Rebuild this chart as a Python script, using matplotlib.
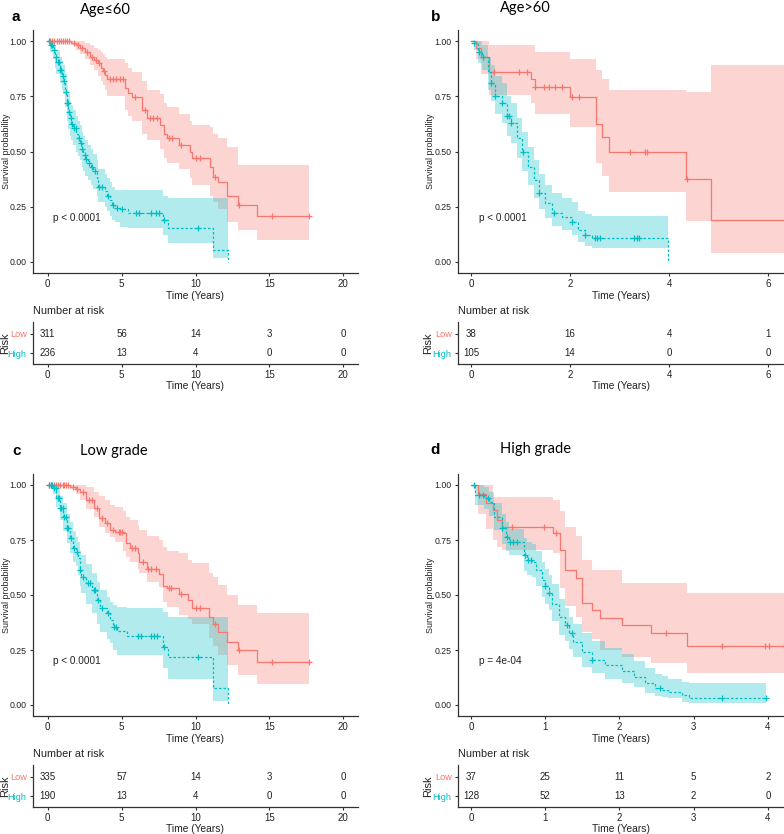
"""Kaplan-Meier panels (Age / grade subgroups) with number-at-risk tables."""

import matplotlib.pyplot as plt
import numpy as np

W, H = 784, 834
RED = "#F8766D"
TEAL = "#00BFC4"
INK = "#222222"

# ---- panel a: Age<=60 ----
A_LOW_T = [0, 1.6, 1.9, 2.2, 2.5, 2.85, 3.1, 3.4, 3.6, 3.75, 3.9, 4.0, 5.2, 5.45, 5.7,
           6.35, 6.7, 7.6, 7.85, 8.05, 8.85, 9.6, 9.75, 11.0, 11.2, 11.55, 12.1, 12.9, 14.15]
A_LOW_S = [1.0, 0.99, 0.98, 0.967, 0.95, 0.93, 0.915, 0.90, 0.88, 0.865, 0.845, 0.826, 0.786,
           0.765, 0.745, 0.688, 0.65, 0.62, 0.58, 0.56, 0.53, 0.50, 0.47, 0.43, 0.386, 0.36,
           0.30, 0.258, 0.208]
A_LOW_HI = [1.0, 1.0, 1.0, 1.0, 0.99, 0.98, 0.97, 0.96, 0.95, 0.94, 0.93, 0.92, 0.90, 0.88,
            0.86, 0.82, 0.78, 0.76, 0.72, 0.70, 0.67, 0.64, 0.62, 0.61, 0.58, 0.56, 0.52,
            0.44, 0.44]
A_LOW_LO = [1.0, 0.98, 0.96, 0.94, 0.92, 0.89, 0.87, 0.84, 0.82, 0.80, 0.78, 0.75, 0.69, 0.66,
            0.64, 0.58, 0.55, 0.51, 0.47, 0.45, 0.42, 0.38, 0.35, 0.30, 0.27, 0.24, 0.18,
            0.145, 0.10]
A_LOW_END = 17.65
A_LOW_CENS = [0.15, 0.3, 0.45, 0.6, 0.75, 0.9, 1.0, 1.15, 1.3, 1.45, 1.75, 2.05, 2.35, 2.65,
              3.0, 3.25, 3.5, 3.8, 4.2, 4.4, 4.65, 4.9, 5.1, 5.9, 6.55, 6.9, 7.1, 7.4, 8.2,
              8.4, 9.0, 10.0, 10.3, 11.3, 12.95, 15.2, 17.65]

A_HIGH_T = [0, 0.15, 0.36, 0.5, 0.59, 0.81, 0.95, 1.04, 1.15, 1.27, 1.38, 1.49, 1.6, 1.72,
            1.94, 2.05, 2.17, 2.3, 2.4, 2.55, 2.73, 2.9, 3.07, 3.3, 3.41, 3.86, 4.0, 4.2,
            4.35, 4.54, 4.88, 5.4, 7.8, 8.15, 11.16, 12.18]
A_HIGH_S = [1.0, 0.98, 0.96, 0.93, 0.906, 0.87, 0.84, 0.82, 0.77, 0.718, 0.68, 0.65, 0.625,
            0.605, 0.58, 0.56, 0.537, 0.51, 0.484, 0.465, 0.446, 0.43, 0.41, 0.38, 0.34,
            0.32, 0.30, 0.28, 0.26, 0.243, 0.238, 0.223, 0.19, 0.155, 0.054, 0.0]
A_HIGH_HI = [1.0, 1.0, 1.0, 0.98, 0.96, 0.93, 0.91, 0.89, 0.85, 0.80, 0.76, 0.73, 0.71, 0.69,
             0.66, 0.64, 0.62, 0.59, 0.57, 0.55, 0.53, 0.51, 0.49, 0.46, 0.42, 0.40, 0.38,
             0.36, 0.34, 0.326, 0.326, 0.326, 0.30, 0.29, 0.29, 0.29]
A_HIGH_LO = [1.0, 0.95, 0.92, 0.88, 0.85, 0.81, 0.78, 0.76, 0.70, 0.64, 0.60, 0.57, 0.55,
             0.53, 0.50, 0.48, 0.46, 0.43, 0.41, 0.39, 0.37, 0.35, 0.33, 0.30, 0.27, 0.25,
             0.23, 0.21, 0.19, 0.18, 0.16, 0.152, 0.12, 0.085, 0.017, 0.0]
A_HIGH_END = 12.18
A_HIGH_CENS = [0.1, 0.2, 0.3, 0.45, 0.55, 0.7, 0.75, 0.85, 0.9, 1.0, 1.1, 1.2, 1.3, 1.35,
               1.45, 1.55, 1.65, 1.8, 1.9, 2.1, 2.25, 2.35, 2.5, 2.6, 2.8, 3.0, 3.2, 3.5,
               3.7, 4.1, 4.4, 4.7, 5.0, 6.0, 6.2, 7.0, 7.3, 7.5, 7.9, 10.2]

# ---- panel b: Age>60 ----
B_LOW_T = [0, 0.1, 0.2, 0.36, 1.22, 1.29, 1.99, 2.53, 2.65, 2.78, 4.35, 4.84]
B_LOW_S = [1.0, 0.97, 0.93, 0.86, 0.826, 0.79, 0.748, 0.623, 0.564, 0.50, 0.374, 0.19]
B_LOW_HI = [1.0, 1.0, 1.0, 0.98, 0.98, 0.95, 0.92, 0.87, 0.83, 0.78, 0.77, 0.89]
B_LOW_LO = [1.0, 0.92, 0.85, 0.756, 0.72, 0.67, 0.61, 0.45, 0.39, 0.318, 0.185, 0.042]
B_LOW_END = 6.5
B_LOW_CENS = [0.46, 0.96, 1.13, 1.29, 1.47, 1.57, 1.70, 1.84, 2.04, 2.18, 3.22, 3.52,
              3.56, 4.37]

B_HIGH_T = [0, 0.05, 0.14, 0.22, 0.34, 0.4, 0.48, 0.63, 0.73, 0.8, 0.93, 1.03, 1.16, 1.27,
            1.37, 1.5, 1.64, 1.84, 2.04, 2.17, 2.31, 2.44, 3.98]
B_HIGH_S = [1.0, 0.99, 0.95, 0.93, 0.86, 0.81, 0.75, 0.72, 0.66, 0.63, 0.56, 0.50, 0.43,
            0.37, 0.314, 0.265, 0.223, 0.205, 0.18, 0.145, 0.122, 0.11, 0.0]
B_HIGH_HI = [1.0, 1.0, 1.0, 0.98, 0.93, 0.89, 0.84, 0.81, 0.75, 0.72, 0.65, 0.59, 0.52,
             0.46, 0.40, 0.35, 0.31, 0.29, 0.27, 0.23, 0.215, 0.208, 0.208]
B_HIGH_LO = [1.0, 0.96, 0.90, 0.87, 0.78, 0.73, 0.67, 0.63, 0.57, 0.54, 0.47, 0.41, 0.35,
             0.29, 0.24, 0.20, 0.165, 0.145, 0.12, 0.09, 0.072, 0.062, 0.062]
B_HIGH_END = 3.98
B_HIGH_CENS = [0.05, 0.17, 0.24, 0.41, 0.49, 0.63, 0.73, 0.77, 0.81, 1.04, 1.37, 1.67, 2.04,
               2.31, 2.51, 2.55, 2.61, 3.29, 3.35, 3.39]

# ---- panel c: Low grade ----
C_LOW_T = [0, 1.5, 1.9, 2.2, 2.6, 3.1, 3.5, 3.85, 4.2, 4.55, 5.1, 5.3, 5.55, 6.1, 6.2, 6.7,
           7.5, 7.8, 8.05, 8.85, 9.5, 9.75, 10.9, 11.2, 11.55, 12.1, 12.9, 14.15]
C_LOW_S = [1.0, 0.99, 0.98, 0.97, 0.93, 0.894, 0.85, 0.826, 0.795, 0.788, 0.78, 0.735,
           0.712, 0.69, 0.65, 0.62, 0.595, 0.54, 0.53, 0.505, 0.477, 0.44, 0.40, 0.37,
           0.333, 0.288, 0.25, 0.194]
C_LOW_HI = [1.0, 1.0, 1.0, 1.0, 0.99, 0.97, 0.95, 0.93, 0.91, 0.90, 0.88, 0.856, 0.84, 0.82,
            0.795, 0.77, 0.75, 0.72, 0.70, 0.69, 0.66, 0.644, 0.60, 0.58, 0.545, 0.50,
            0.455, 0.42]
C_LOW_LO = [1.0, 0.98, 0.96, 0.93, 0.89, 0.856, 0.81, 0.78, 0.765, 0.74, 0.70, 0.674, 0.65,
            0.62, 0.60, 0.56, 0.538, 0.47, 0.447, 0.41, 0.39, 0.37, 0.303, 0.27, 0.227,
            0.18, 0.136, 0.095]
C_LOW_END = 17.65
C_LOW_CENS = [0.1, 0.25, 0.4, 0.55, 0.7, 0.85, 1.0, 1.1, 1.25, 1.4, 1.7, 2.0, 2.4, 2.8, 3.0,
              3.3, 3.7, 4.0, 4.4, 4.8, 4.9, 5.0, 5.7, 5.9, 6.45, 6.8, 7.0, 7.3, 8.2, 8.35,
              9.0, 10.0, 10.3, 11.3, 12.95, 15.2, 17.65]

C_HIGH_T = [0, 0.36, 0.59, 0.81, 1.04, 1.27, 1.49, 1.72, 1.94, 2.05, 2.17, 2.28, 2.62, 2.96,
            3.3, 3.53, 3.98, 4.2, 4.43, 4.66, 5.33, 7.8, 8.15, 11.16, 12.18]
C_HIGH_S = [1.0, 0.985, 0.94, 0.894, 0.856, 0.803, 0.758, 0.712, 0.697, 0.667, 0.614, 0.583,
            0.553, 0.523, 0.477, 0.44, 0.417, 0.386, 0.356, 0.336, 0.314, 0.265, 0.217,
            0.076, 0.0]
C_HIGH_HI = [1.0, 1.0, 0.98, 0.95, 0.92, 0.87, 0.83, 0.79, 0.765, 0.74, 0.70, 0.68, 0.64,
             0.60, 0.56, 0.523, 0.49, 0.47, 0.455, 0.447, 0.44, 0.424, 0.40, 0.40, 0.40]
C_HIGH_LO = [1.0, 0.96, 0.90, 0.84, 0.79, 0.735, 0.69, 0.65, 0.63, 0.59, 0.54, 0.51, 0.46,
             0.417, 0.37, 0.33, 0.30, 0.28, 0.25, 0.227, 0.227, 0.17, 0.12, 0.02, 0.0]
C_HIGH_END = 12.18
C_HIGH_CENS = [0.1, 0.2, 0.3, 0.45, 0.55, 0.7, 0.75, 0.85, 0.9, 1.0, 1.1, 1.2, 1.3, 1.4, 1.6,
               1.8, 2.0, 2.2, 2.4, 2.7, 2.85, 3.1, 3.2, 3.4, 3.7, 4.1, 4.5, 4.6, 6.1, 6.3,
               7.0, 7.2, 7.4, 7.9, 10.2]

# ---- panel d: High grade ----
D_LOW_T = [0, 0.1, 0.2, 0.3, 0.35, 0.42, 1.1, 1.2, 1.26, 1.41, 1.5, 1.63, 1.74, 2.03, 2.42,
           2.91]
D_LOW_S = [1.0, 0.96, 0.92, 0.886, 0.84, 0.81, 0.78, 0.705, 0.614, 0.576, 0.465, 0.43,
           0.394, 0.364, 0.326, 0.27]
D_LOW_HI = [1.0, 1.0, 1.0, 0.947, 0.947, 0.947, 0.93, 0.88, 0.81, 0.77, 0.66, 0.614, 0.614,
            0.553, 0.553, 0.51]
D_LOW_LO = [1.0, 0.87, 0.80, 0.75, 0.72, 0.705, 0.69, 0.53, 0.45, 0.40, 0.33, 0.30, 0.25,
            0.22, 0.19, 0.144]
D_LOW_END = 4.3
D_LOW_CENS = [0.55, 0.98, 1.14, 2.62, 3.38, 3.96, 4.01, 4.21]

D_HIGH_T = [0, 0.06, 0.17, 0.24, 0.31, 0.42, 0.47, 0.51, 0.71, 0.75, 0.82, 0.87, 0.96, 1.0,
            1.05, 1.09, 1.18, 1.27, 1.32, 1.38, 1.5, 1.63, 1.81, 2.03, 2.19, 2.35, 2.48,
            2.57, 2.66, 2.84, 2.93]
D_HIGH_S = [1.0, 0.955, 0.94, 0.924, 0.856, 0.803, 0.765, 0.742, 0.68, 0.66, 0.65, 0.614,
            0.568, 0.54, 0.508, 0.46, 0.40, 0.364, 0.326, 0.288, 0.242, 0.205, 0.182, 0.156,
            0.129, 0.098, 0.076, 0.068, 0.06, 0.045, 0.03]
D_HIGH_HI = [1.0, 1.0, 0.99, 0.97, 0.917, 0.87, 0.83, 0.80, 0.76, 0.74, 0.73, 0.70, 0.65,
             0.62, 0.59, 0.55, 0.48, 0.44, 0.40, 0.37, 0.326, 0.29, 0.26, 0.23, 0.20, 0.17,
             0.14, 0.13, 0.12, 0.105, 0.098]
D_HIGH_LO = [1.0, 0.91, 0.89, 0.86, 0.795, 0.73, 0.70, 0.68, 0.61, 0.59, 0.58, 0.54, 0.49,
             0.46, 0.43, 0.38, 0.32, 0.29, 0.255, 0.22, 0.175, 0.145, 0.12, 0.10, 0.08,
             0.055, 0.04, 0.035, 0.03, 0.015, 0.01]
D_HIGH_END = 3.97
D_HIGH_CENS = [0.04, 0.11, 0.16, 0.23, 0.42, 0.48, 0.52, 0.57, 0.62, 0.73, 0.77, 0.81, 1.0,
               1.05, 1.29, 1.36, 1.63, 2.55, 3.38, 3.97]

# ---- number at risk ----
A_TICKS = [0, 5, 10, 15, 20]
A_RISK_LOW = [311, 56, 14, 3, 0]
A_RISK_HIGH = [236, 13, 4, 0, 0]
B_TICKS = [0, 2, 4, 6]
B_RISK_LOW = [38, 16, 4, 1]
B_RISK_HIGH = [105, 14, 0, 0]
C_TICKS = [0, 5, 10, 15, 20]
C_RISK_LOW = [335, 57, 14, 3, 0]
C_RISK_HIGH = [190, 13, 4, 0, 0]
D_TICKS = [0, 1, 2, 3, 4]
D_RISK_LOW = [37, 25, 11, 5, 2]
D_RISK_HIGH = [128, 52, 13, 2, 0]

LETTERS = ["a", "b", "c", "d"]
TITLES = ["Age\u226460", "Age>60", "Low grade", "High grade"]
PVALUES = ["p < 0.0001", "p < 0.0001", "p < 0.0001", "p = 4e-04"]


def add_axes_px(fig, left, top, right, bottom):
    return fig.add_axes([left / W, 1 - bottom / H, (right - left) / W, (bottom - top) / H])


def step_value(times, values, at):
    idx = np.searchsorted(times, at, side="right") - 1
    return np.asarray(values)[idx]


def style_axis(ax):
    ax.spines[["top", "right"]].set_visible(False)
    for side in ("left", "bottom"):
        ax.spines[side].set_color("#333333")
        ax.spines[side].set_linewidth(0.9)
    ax.tick_params(length=2.5, width=0.8, color="#333333", labelcolor=INK,
                   labelsize=7, pad=2)


def draw_curve(ax, times, surv, lower, upper, end, censors, color, style):
    t = np.append(times, end)
    s = np.append(surv, surv[-1])
    ax.step(t, s, where="post", color=color, linewidth=0.9, linestyle=style)
    cens = np.asarray(censors)
    ax.plot(cens, step_value(times, surv, cens), linestyle="none", marker="+",
            markersize=4, markeredgewidth=0.9, color=color)
    ax.fill_between(t, np.append(lower, lower[-1]), np.append(upper, upper[-1]),
                    step="post", color=color, alpha=0.3, linewidth=0)


def main():
    plt.rcParams["font.family"] = ["Liberation Sans", "DejaVu Sans"]
    fig = plt.figure(figsize=(W / 100, H / 100), dpi=100)

    curves = [
        [(A_LOW_T, A_LOW_S, A_LOW_LO, A_LOW_HI, A_LOW_END, A_LOW_CENS),
         (A_HIGH_T, A_HIGH_S, A_HIGH_LO, A_HIGH_HI, A_HIGH_END, A_HIGH_CENS)],
        [(B_LOW_T, B_LOW_S, B_LOW_LO, B_LOW_HI, B_LOW_END, B_LOW_CENS),
         (B_HIGH_T, B_HIGH_S, B_HIGH_LO, B_HIGH_HI, B_HIGH_END, B_HIGH_CENS)],
        [(C_LOW_T, C_LOW_S, C_LOW_LO, C_LOW_HI, C_LOW_END, C_LOW_CENS),
         (C_HIGH_T, C_HIGH_S, C_HIGH_LO, C_HIGH_HI, C_HIGH_END, C_HIGH_CENS)],
        [(D_LOW_T, D_LOW_S, D_LOW_LO, D_LOW_HI, D_LOW_END, D_LOW_CENS),
         (D_HIGH_T, D_HIGH_S, D_HIGH_LO, D_HIGH_HI, D_HIGH_END, D_HIGH_CENS)],
    ]
    ticks = [A_TICKS, B_TICKS, C_TICKS, D_TICKS]
    risks = [(A_RISK_LOW, A_RISK_HIGH), (B_RISK_LOW, B_RISK_HIGH),
             (C_RISK_LOW, C_RISK_HIGH), (D_RISK_LOW, D_RISK_HIGH)]
    xlims = [(-1, 21), (-0.263, 6.32), (-1, 21), (-0.175, 4.216)]
    pval_x = [0.35, 0.17, 0.35, 0.11]

    # pixel boxes: (left, right), main (top, bottom), table (top, bottom)
    cols = [(33, 358), (458, 784), (33, 358), (458, 784)]
    mains = [(30, 273), (30, 273), (474, 716), (474, 716)]
    tables = [(322, 364), (322, 364), (765, 807), (765, 807)]
    surv_label_x = [11, 435, 11, 435]
    risk_label_x = [10, 433, 10, 433]
    letter_pos = [(12, 17), (431, 17), (12, 451), (430, 450)]
    title_pos = [(80, 10), (500, 8), (80, 451), (500, 449)]

    for i in range(4):
        left, right = cols[i]
        width = right - left
        ax = add_axes_px(fig, left, mains[i][0], right, mains[i][1])
        for (t, s, lo, hi, end, cens), color, style in zip(
                curves[i], (RED, TEAL), ("-", (0, (2, 1.6)))):
            draw_curve(ax, t, s, lo, hi, end, cens, color, style)
        ax.set_xlim(*xlims[i])
        ax.set_ylim(-0.05, 1.05)
        ax.set_xticks(ticks[i])
        ax.set_yticks([0, 0.25, 0.5, 0.75, 1.0])
        ax.set_yticklabels(["0.00", "0.25", "0.50", "0.75", "1.00"])
        style_axis(ax)
        ax.tick_params(axis="y", labelsize=6.3)
        ax.set_xlabel("Time (Years)", fontsize=7.4, color=INK, labelpad=1)
        ax.set_ylabel("Survival probability", fontsize=6.4, color=INK)
        ax.yaxis.set_label_coords((surv_label_x[i] - left) / width, 0.5)
        ax.text(pval_x[i], 0.2, PVALUES[i], fontsize=7.2, color=INK, ha="left", va="center")

        # risk table
        tab = add_axes_px(fig, left, tables[i][0], right, tables[i][1])
        tab.set_xlim(*xlims[i])
        tab.set_ylim(-0.57, 1.62)
        low, high = risks[i]
        for x, n_low, n_high in zip(ticks[i], low, high):
            tab.text(x, 1, str(n_low), ha="center", va="center", fontsize=7, color=INK)
            tab.text(x, 0, str(n_high), ha="center", va="center", fontsize=7, color=INK)
        tab.set_xticks(ticks[i])
        tab.set_yticks([0, 1])
        tab.set_yticklabels(["High", "Low"])
        style_axis(tab)
        tab.tick_params(axis="y", labelsize=6.6)
        for label, color in zip(tab.get_yticklabels(), (TEAL, RED)):
            label.set_color(color)
        tab.set_xlabel("Time (Years)", fontsize=7.4, color=INK, labelpad=0.5)
        tab.set_ylabel("Risk", fontsize=8, color=INK)
        tab.yaxis.set_label_coords((risk_label_x[i] - left) / width, 0.5)
        tab.annotate("Number at risk", xy=(0, 1), xycoords="axes fraction",
                     xytext=(0, 4.5), textcoords="offset points", ha="left", va="bottom",
                     fontsize=7.8, color=INK)

        lx, ly = letter_pos[i]
        fig.text(lx / W, 1 - ly / H, LETTERS[i], fontsize=11, fontweight="bold",
                 ha="left", va="center", color="black")
        tx, ty = title_pos[i]
        fig.text(tx / W, 1 - ty / H, TITLES[i], fontsize=10.5, ha="left", va="center",
                 color="black", family=["Lato", "DejaVu Sans"])

    fig.savefig("out.png", dpi=100)
    plt.close(fig)


if __name__ == "__main__":
    main()
